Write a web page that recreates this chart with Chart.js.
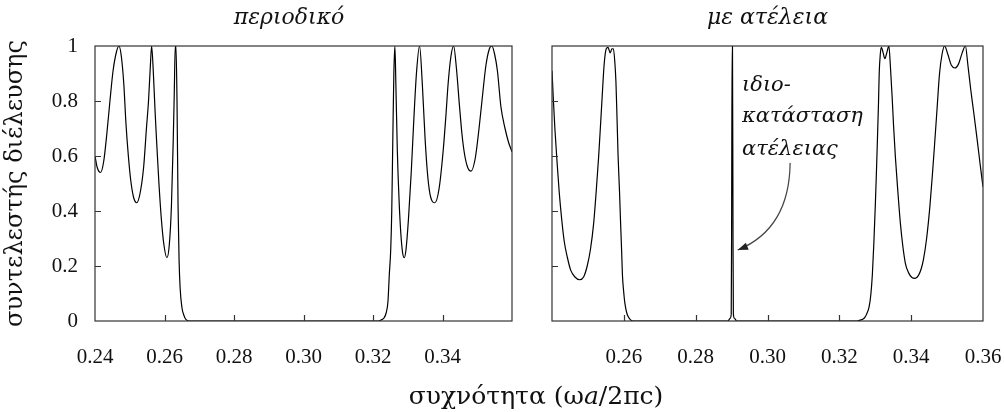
<!DOCTYPE html>
<html>
<head>
<meta charset="utf-8">
<script src="https://cdn.jsdelivr.net/npm/chart.js@4/dist/chart.umd.min.js"></script>
<style>
  body { margin: 0; background: #fff; }
  #wrap { position: relative; width: 1004px; height: 412px; overflow: hidden; }
  canvas { position: absolute; top: 0; }
  #left { left: 0; }
  #right { left: 532px; }
  #xlabel { position: absolute; left: 286px; width: 500px; top: 381px; text-align: center;
            font-family: "DejaVu Serif", serif; font-size: 25px; color: #111; line-height: 30px; }
</style>
</head>
<body>
<div id="wrap">
  <canvas id="right" width="472" height="412"></canvas>
  <canvas id="left" width="578" height="412"></canvas>
  <div id="xlabel">συχνότητα (ω<i>a</i>/2πc)</div>
</div>
<script>
'use strict'

// periodic structure: frequency (ωa/2πc) and transmission
const leftFreq = [0.2400, 0.2406, 0.2416, 0.2425, 0.2434, 0.2443, 0.2452, 0.2462, 0.2469, 0.2476,
  0.2483, 0.2489, 0.2496, 0.2503, 0.2511, 0.2520, 0.2529, 0.2540, 0.2548, 0.2554,
  0.2559, 0.2563, 0.2568, 0.2573, 0.2577, 0.2584, 0.2591, 0.2598, 0.2607, 0.2614,
  0.2620, 0.2625, 0.2628, 0.2631, 0.2633, 0.2636, 0.2639, 0.2642, 0.2645, 0.2650,
  0.2656, 0.2662, 0.2674, 0.2700, 0.3000, 0.3215, 0.3225, 0.3231, 0.3238, 0.3243,
  0.3247, 0.3251, 0.3254, 0.3257, 0.3260, 0.3263, 0.3266, 0.3270, 0.3275, 0.3280,
  0.3285, 0.3290, 0.3295, 0.3302, 0.3310, 0.3317, 0.3325, 0.3334, 0.3342, 0.3350,
  0.3358, 0.3366, 0.3378, 0.3390, 0.3402, 0.3410, 0.3416, 0.3424, 0.3432, 0.3440,
  0.3449, 0.3456, 0.3463, 0.3472, 0.3482, 0.3494, 0.3506, 0.3516, 0.3525, 0.3535,
  0.3542, 0.3550, 0.3558, 0.3568, 0.3580, 0.3590, 0.3600]
const leftTrans = [0.60, 0.56, 0.54, 0.58, 0.68, 0.80, 0.91, 0.98, 1.00, 0.96,
  0.86, 0.72, 0.60, 0.51, 0.45, 0.43, 0.46, 0.56, 0.70, 0.80,
  0.92, 1.00, 0.90, 0.76, 0.66, 0.50, 0.37, 0.28, 0.23, 0.28,
  0.42, 0.65, 0.82, 1.00, 1.00, 0.80, 0.42, 0.22, 0.12, 0.05,
  0.02, 0.005, 0, 0, 0, 0, 0.005, 0.01, 0.03, 0.07,
  0.17, 0.26, 0.40, 0.66, 0.90, 1.00, 0.85, 0.62, 0.44, 0.32,
  0.25, 0.23, 0.26, 0.37, 0.54, 0.72, 0.90, 1.00, 0.86, 0.66,
  0.52, 0.45, 0.43, 0.48, 0.62, 0.75, 0.86, 0.96, 1.00, 0.92,
  0.78, 0.68, 0.61, 0.56, 0.545, 0.59, 0.71, 0.83, 0.93, 0.99,
  1.00, 0.97, 0.91, 0.78, 0.70, 0.65, 0.615]

// structure with a defect
const rightFreq = [0.2400, 0.2404, 0.2408, 0.2414, 0.2420, 0.2427, 0.2434, 0.2443, 0.2452, 0.2464,
  0.2477, 0.2488, 0.2498, 0.2507, 0.2516, 0.2523, 0.2530, 0.2535, 0.2539, 0.2545,
  0.2551, 0.2556, 0.2562, 0.2567, 0.2571, 0.2575, 0.2578, 0.2581, 0.2584, 0.2588,
  0.2591, 0.2594, 0.2596, 0.2600, 0.2603, 0.2608, 0.2612, 0.2618, 0.2626, 0.2890,
  0.2896, 0.2899, 0.2900, 0.29015, 0.29025, 0.2904, 0.2905, 0.2908, 0.2914, 0.3250,
  0.3260, 0.3269, 0.3276, 0.3283, 0.3288, 0.3292, 0.3296, 0.3300, 0.3303, 0.3306,
  0.3309, 0.3311, 0.3314, 0.3317, 0.3322, 0.3327, 0.3332, 0.3338, 0.3342, 0.3347,
  0.3351, 0.3356, 0.3363, 0.3370, 0.3377, 0.3384, 0.3393, 0.3402, 0.3411, 0.3420,
  0.3428, 0.3434, 0.3443, 0.3452, 0.3459, 0.3466, 0.3472, 0.3479, 0.3486, 0.3493,
  0.3502, 0.3512, 0.3522, 0.3532, 0.3542, 0.3551, 0.3558, 0.3566, 0.3575, 0.3584,
  0.3592, 0.3600]
const rightTrans = [0.91, 0.80, 0.70, 0.58, 0.47, 0.37, 0.29, 0.23, 0.185, 0.16,
  0.15, 0.16, 0.20, 0.26, 0.355, 0.47, 0.60, 0.71, 0.80, 0.93,
  0.99, 0.995, 0.975, 0.99, 0.99, 0.94, 0.87, 0.74, 0.60, 0.47,
  0.355, 0.25, 0.17, 0.10, 0.064, 0.03, 0.016, 0.005, 0, 0,
  0.01, 0.025, 0.3, 1.0, 1.0, 0.3, 0.025, 0.01, 0, 0,
  0.004, 0.01, 0.025, 0.052, 0.10, 0.17, 0.28, 0.415, 0.53, 0.657,
  0.79, 0.90, 0.97, 0.995, 0.975, 0.954, 0.975, 1.0, 0.93, 0.815,
  0.71, 0.597, 0.47, 0.355, 0.27, 0.209, 0.175, 0.158, 0.155, 0.165,
  0.19, 0.222, 0.30, 0.415, 0.53, 0.657, 0.77, 0.90, 0.97, 1.0,
  0.97, 0.93, 0.92, 0.935, 0.975, 1.0, 0.93, 0.84, 0.75, 0.657,
  0.57, 0.488]

const xTicks = [0.24, 0.26, 0.28, 0.30, 0.32, 0.34, 0.36]
const xTickLabels = ['0.24', '0.26', '0.28', '0.30', '0.32', '0.34', '0.36']
const yTicks = [0, 0.2, 0.4, 0.6, 0.8, 1]
const yTickLabels = ['0', '0.2', '0.4', '0.6', '0.8', '1']

const serif = '"Liberation Serif", "DejaVu Serif", serif'
const greek = '"DejaVu Serif", serif'

// box round the plot and short ticks pointing inwards
const framePlugin = {
  id: 'frame',
  afterDraw(chart) {
    const {ctx, chartArea: a, scales: {x, y}} = chart
    ctx.save()
    ctx.strokeStyle = '#333'
    ctx.lineWidth = 1.2
    ctx.strokeRect(a.left, a.top, a.right - a.left, a.bottom - a.top)
    ctx.beginPath()
    xTicks.slice(1, -1).forEach(v => {
      const p = Math.round(x.getPixelForValue(v)) + 0.5
      ctx.moveTo(p, a.bottom)
      ctx.lineTo(p, a.bottom - 6)
    })
    yTicks.slice(1, -1).forEach(v => {
      const p = Math.round(y.getPixelForValue(v)) + 0.5
      ctx.moveTo(a.left, p)
      ctx.lineTo(a.left + 6, p)
    })
    ctx.stroke()
    ctx.restore()
  }
}

// note and arrow pointing at the defect mode
const noteLines = ['ιδιο-', 'κατάσταση', 'ατέλειας']
const notePlugin = {
  id: 'note',
  afterDraw(chart) {
    const {ctx, scales: {x, y}} = chart
    ctx.save()
    ctx.fillStyle = '#111'
    ctx.font = 'italic 21px ' + greek
    ctx.textBaseline = 'middle'
    const tx = x.getPixelForValue(0.2929)
    const rows = [0.858, 0.742, 0.622]
    noteLines.forEach((t, i) => ctx.fillText(t, tx, y.getPixelForValue(rows[i])))

    const sx = x.getPixelForValue(0.3063), sy = y.getPixelForValue(0.575)
    const cx = x.getPixelForValue(0.3061), cy = y.getPixelForValue(0.335)
    const ex = x.getPixelForValue(0.2917), ey = y.getPixelForValue(0.258)
    ctx.strokeStyle = '#444'
    ctx.lineWidth = 1.2
    ctx.beginPath()
    ctx.moveTo(sx, sy)
    ctx.quadraticCurveTo(cx, cy, ex, ey)
    ctx.stroke()
    const ang = Math.atan2(ey - cy, ex - cx)
    ctx.fillStyle = '#222'
    ctx.beginPath()
    ctx.moveTo(ex, ey)
    ctx.lineTo(ex - 11 * Math.cos(ang - 0.35), ey - 11 * Math.sin(ang - 0.35))
    ctx.lineTo(ex - 11 * Math.cos(ang + 0.35), ey - 11 * Math.sin(ang + 0.35))
    ctx.closePath()
    ctx.fill()
    ctx.restore()
  }
}

// spare: width of an empty right-hand axis, used only to move the full-width title box
const makeConfig = (freq, trans, title, showY, hiddenX, padRight, yWidth, spare) => ({
  type: 'line',
  data: {
    datasets: [{
      data: freq.map((f, i) => ({x: f, y: trans[i]})),
      borderColor: '#000',
      borderWidth: 1.2,
      pointRadius: 0,
      fill: false,
      cubicInterpolationMode: 'monotone'
    }]
  },
  options: {
    responsive: false,
    animation: false,
    layout: {padding: {left: 0, right: padRight, top: 0, bottom: 0}},
    plugins: {
      legend: {display: false},
      tooltip: {enabled: false},
      title: {
        display: true,
        fullSize: spare > 0,
        text: title,
        color: '#111',
        font: {family: greek, size: 22, style: 'italic', weight: 'normal', lineHeight: 1.2},
        padding: {top: 4.8, bottom: 14.8}
      }
    },
    scales: {
      x: {
        type: 'linear',
        min: 0.24,
        max: 0.36,
        afterBuildTicks: s => { s.ticks = xTicks.map(v => ({value: v})) },
        afterFit: s => { s.height = 91; s.paddingLeft = 0; s.paddingRight = 0 },
        grid: {display: false, drawTicks: false},
        border: {display: false},
        ticks: {
          autoSkip: false,
          maxRotation: 0,
          padding: 24,
          color: '#111',
          font: {family: serif, size: 21},
          callback: (v, i) => i === hiddenX ? '' : xTickLabels[i]
        }
      },
      y: {
        min: 0,
        max: 1,
        afterBuildTicks: s => { s.ticks = yTicks.map(v => ({value: v})) },
        afterFit: s => { s.width = yWidth },
        grid: {display: false, drawTicks: false},
        border: {display: false},
        ticks: {
          display: showY,
          padding: 17,
          color: '#111',
          font: {family: serif, size: 21},
          callback: (v, i) => yTickLabels[i]
        },
        title: {
          display: showY,
          text: 'συντελεστής διέλευσης',
          color: '#111',
          font: {family: greek, size: 24, lineHeight: 1.2},
          padding: {top: 1.6, bottom: 0}
        }
      },
      y2: {
        display: spare > 0,
        position: 'right',
        afterFit: s => { s.width = spare },
        grid: {display: false, drawTicks: false},
        border: {display: false},
        ticks: {display: false}
      }
    }
  }
})

const leftCfg = makeConfig(leftFreq, leftTrans, 'περιοδικό', true, 6, 0, 95, 66)
leftCfg.plugins = [framePlugin]
new Chart(document.querySelector('#left'), leftCfg)

const rightCfg = makeConfig(rightFreq, rightTrans, 'με ατέλεια', false, 0, 21, 20, 0)
rightCfg.plugins = [framePlugin, notePlugin]
new Chart(document.querySelector('#right'), rightCfg)
</script>
</body>
</html>
